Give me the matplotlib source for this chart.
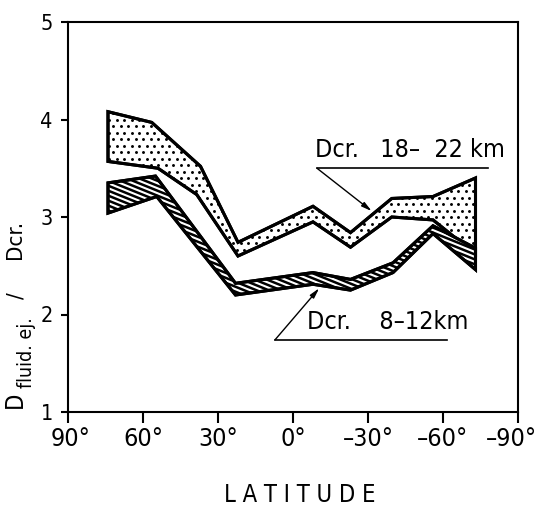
import numpy as np
import matplotlib
matplotlib.use("Agg")
import matplotlib.pyplot as plt
from matplotlib import font_manager
from matplotlib.patches import Polygon
from matplotlib.collections import LineCollection
from matplotlib.transforms import IdentityTransform, ScaledTranslation
from matplotlib.font_manager import FontProperties

cond = [f for f in font_manager.fontManager.ttflist
        if ("Condensed" in f.fname or "Narrow" in f.fname)
        and "Bold" not in f.fname and "Oblique" not in f.fname
        and "Italic" not in f.fname and "Light" not in f.fname]
pref = sorted(cond, key=lambda f: (0 if "DejaVuSansCondensed.ttf" in f.fname else
                                   1 if "Narrow" in f.fname else 2))
FP = FontProperties(fname=pref[0].fname) if pref else FontProperties(family="DejaVu Sans")


def fp(size):
    p = FP.copy()
    p.set_size(size)
    return p


# ---- data ----
# Dcr. 18-22 km band
lat_up_top = [74, 56.5, 37, 22, -8, -23, -39.5, -56, -73]
up_top = [4.08, 3.97, 3.52, 2.74, 3.11, 2.84, 3.19, 3.21, 3.40]
lat_up_bot = [74, 54, 38.5, 22, -8, -23, -39.5, -56, -73]
up_bot = [3.57, 3.50, 3.23, 2.60, 2.95, 2.69, 3.00, 2.97, 2.62]

# Dcr. 8-12 km band
lat_lo_top = [74, 55, 23, -8, -23, -40, -56, -73]
lo_top = [3.35, 3.42, 2.32, 2.43, 2.36, 2.53, 2.91, 2.68]
lat_lo_bot = [74, 54.5, 23, -8, -23, -40, -56, -73]
lo_bot = [3.04, 3.21, 2.20, 2.31, 2.25, 2.43, 2.83, 2.46]

xticks = [90, 60, 30, 0, -30, -60, -90]
xticklabels = ["90°", "60°", "30°", "0°", "–30°", "–60°", "–90°"]
yticks = [1, 2, 3, 4, 5]

fig = plt.figure(figsize=(5.38, 5.09), dpi=100)
ax = fig.add_axes([68 / 538, 97 / 509, 450 / 538, 390 / 509])
ax.set_xlim(90, -90)
ax.set_ylim(1, 5)


def band(lt, top, lb, bot):
    xs = list(lt) + list(lb)[::-1]
    ys = list(top) + list(bot)[::-1]
    return np.column_stack([xs, ys])


def dots(patch, sx=7.5, sy=6.5, size=2.1):
    bb = ax.bbox
    pts = []
    row = 0
    y = bb.y0
    while y < bb.y1:
        off = (sx / 2) if row % 2 else 0
        x = bb.x0 + off
        while x < bb.x1:
            pts.append((x, y))
            x += sx
        y += sy
        row += 1
    pts = np.array(pts)
    ln, = ax.plot(pts[:, 0], pts[:, 1], ls="none", marker="o", ms=size,
                  mfc="black", mec="none", transform=IdentityTransform(), zorder=3)
    ln.set_clip_path(patch)


def stripes(patch, angle=-22, spacing=4.6, lw=1.8):
    bb = ax.bbox
    a = np.deg2rad(angle)
    d = np.array([np.cos(a), np.sin(a)])
    n = np.array([-d[1], d[0]])
    c = np.array([(bb.x0 + bb.x1) / 2, (bb.y0 + bb.y1) / 2])
    L = max(bb.width, bb.height) * 1.5
    segs = []
    for k in np.arange(-L, L, spacing):
        p = c + n * k
        segs.append([p - d * L, p + d * L])
    lc = LineCollection(segs, colors="black", linewidths=lw,
                        transform=IdentityTransform(), zorder=6)
    ax.add_collection(lc)
    lc.set_clip_path(patch)


up = Polygon(band(lat_up_top, up_top, lat_up_bot, up_bot), closed=True,
             facecolor="white", edgecolor="black", lw=2.2, zorder=2,
             joinstyle="miter")
ax.add_patch(up)
dots(up)
ax.add_patch(Polygon(up.get_xy(), closed=True, fill=False, edgecolor="black",
                     lw=2.2, zorder=4, joinstyle="miter"))

lo = Polygon(band(lat_lo_top, lo_top, lat_lo_bot, lo_bot), closed=True,
             facecolor="white", edgecolor="black", lw=2.2, zorder=5,
             joinstyle="miter")
ax.add_patch(lo)
stripes(lo)
ax.add_patch(Polygon(lo.get_xy(), closed=True, fill=False, edgecolor="black",
                     lw=2.2, zorder=7, joinstyle="miter"))

# annotations
fs = 18
ax.text(-8.8, 3.56, "Dcr.   18–  22 km", fontproperties=fp(fs), ha="left", va="bottom", zorder=8)
ax.plot([-9.6, -78], [3.50, 3.50], color="black", lw=1.2, zorder=8)
ax.annotate("", xy=(-31.5, 3.06), xytext=(-9.6, 3.50),
            arrowprops=dict(arrowstyle="-|>,head_length=0.6,head_width=0.15",
                            color="black", lw=1.0, shrinkA=0, shrinkB=0), zorder=8)

ax.text(-5.5, 1.80, "Dcr.    8–12km", fontproperties=fp(fs), ha="left", va="bottom", zorder=8)
ax.plot([7.2, -61.6], [1.74, 1.74], color="black", lw=1.2, zorder=8)
ax.annotate("", xy=(-10.5, 2.27), xytext=(7.2, 1.74),
            arrowprops=dict(arrowstyle="-|>,head_length=0.6,head_width=0.15",
                            color="black", lw=1.0, shrinkA=0, shrinkB=0), zorder=8)

ax.set_xticks(xticks)
ax.set_xticklabels(xticklabels, fontproperties=fp(18))
ax.set_yticks(yticks)
ax.set_yticklabels([str(v) for v in yticks], fontproperties=fp(15.5))
ax.tick_params(axis="x", direction="out", length=8, width=1.5, pad=3)
ax.tick_params(axis="y", direction="out", length=5, width=1.5, pad=6)
for s in ax.spines.values():
    s.set_linewidth(1.5)
xl = ax.get_xticklabels()
xl[0].set_transform(xl[0].get_transform() + ScaledTranslation(3 / 100, 0, fig.dpi_scale_trans))
xl[-1].set_transform(xl[-1].get_transform() + ScaledTranslation(-7 / 100, 0, fig.dpi_scale_trans))


def fy(py):
    return 1 - py / 509


# y label: D with subscript, then " / Dcr."
fig.text(15 / 538, fy(408), "D", rotation=90, fontproperties=fp(17),
         ha="center", va="bottom")
fig.text(27 / 538, fy(388), "fluid. ej.", rotation=90,
         fontproperties=fp(14), ha="center", va="bottom")
fig.text(17 / 538, fy(299), "/", rotation=90, fontproperties=fp(16),
         ha="center", va="bottom")
fig.text(15 / 538, fy(259), "Dcr.", rotation=90, fontproperties=fp(16),
         ha="center", va="bottom")
fig.text(300 / 538, fy(495), "L A T I T U D E", fontproperties=fp(17),
         ha="center", va="center")

fig.savefig("out.png", dpi=100)
